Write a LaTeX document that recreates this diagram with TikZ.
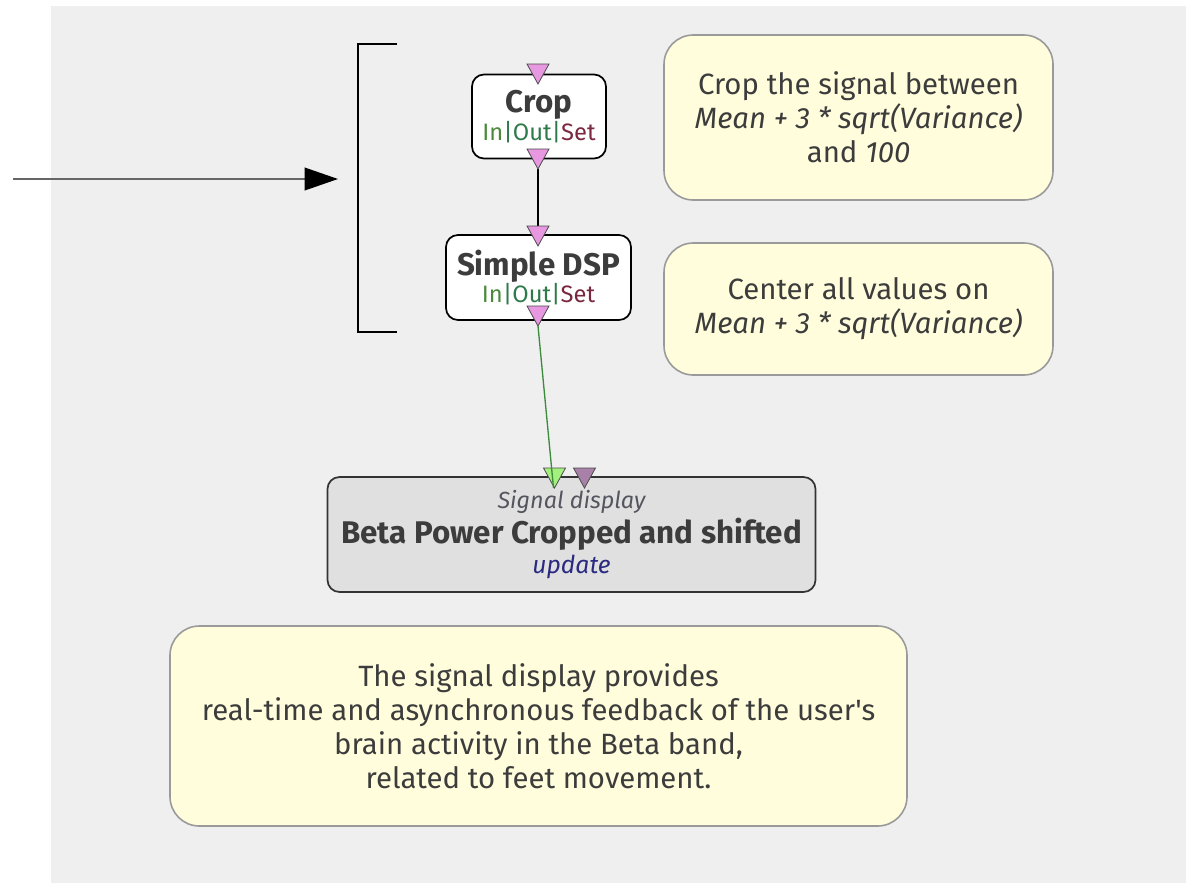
\documentclass[tikz,border=0pt]{standalone}
\usepackage{fontspec}
\setmainfont{Fira Sans}[Ligatures=TeXOff]
\usetikzlibrary{arrows.meta,calc}

\definecolor{canvas}{HTML}{EFEFEF}
\definecolor{notefill}{HTML}{FFFDDC}
\definecolor{noteline}{HTML}{9A9A9A}
\definecolor{boxfill}{HTML}{FFFFFF}
\definecolor{dispfill}{HTML}{E0E0E0}
\definecolor{txt}{HTML}{3C3C3C}
\definecolor{inclr}{HTML}{4A8A3A}
\definecolor{outclr}{HTML}{2E7A4A}
\definecolor{setclr}{HTML}{7A2840}
\definecolor{portpink}{HTML}{E898E0}
\definecolor{portgreen}{HTML}{A4F07E}
\definecolor{portpurple}{HTML}{A880A8}
\definecolor{linkgreen}{HTML}{3C8C3C}
\definecolor{updclr}{HTML}{2A2A80}
\definecolor{dispgray}{HTML}{555560}

\newcommand{\ios}{{\color{inclr}In}{\color{outclr}|Out|}{\color{setclr}Set}}

\tikzset{
  boxnode/.style={draw=black, line width=1.3pt, fill=boxfill, rounded corners=9pt,
    align=center, text=txt, inner sep=0pt},
  notenode/.style={draw=noteline, line width=1.2pt, fill=notefill, rounded corners=22pt,
    align=center, text=txt, inner sep=0pt, font=\fontsize{22}{25.5}\selectfont},
}

% downward port triangle centred on a point
\newcommand{\porttri}[2]{%
  \fill[#2, draw=black!70, line width=0.6pt]
    ($(#1)+(-11,-10)$) -- ($(#1)+(11,-10)$) -- ($(#1)+(0,10)$) -- cycle;}

\begin{document}
\begin{tikzpicture}[x=0.75pt, y=-0.75pt]
\useasboundingbox (0,0) rectangle (1188,883);
\fill[white] (0,0) rectangle (1188,883);
\fill[canvas] (51,6) rectangle (1186,883);

% incoming arrow and bracket
\coordinate (src) at (13,179);
\coordinate (bt) at (397,44);
\coordinate (bm) at (358,179);
\coordinate (bb) at (397,332);
\draw[black, line width=1pt] (bt) -- (358,44) -- (358,332) -- (bb);
\draw[black!60, line width=1.2pt, -{Triangle[length=25pt,width=17pt,fill=black,color=black]}]
  (src) -- ($(bm)+(-20,0)$);

% comment boxes
\node[notenode, minimum width=389*0.75pt, minimum height=165*0.75pt] (n1) at (858.5,117.5)
  {Crop the signal between\\ \textit{Mean + 3 * sqrt(Variance)}\\ and \textit{100}};
\node[notenode, minimum width=389*0.75pt, minimum height=132*0.75pt] (n2) at (858.5,309)
  {Center all values on\\ \textit{Mean + 3 * sqrt(Variance)}};
\node[notenode, minimum width=737*0.75pt, minimum height=200*0.75pt] (n3) at (538.5,726)
  {The signal display provides\\ real-time and asynchronous feedback of the user's\\
   brain activity in the Beta band,\\ related to feet movement.};

% processing boxes
\node[boxnode, minimum width=134*0.75pt, minimum height=84*0.75pt] (crop) at (539,116.5)
  {\fontsize{23.5}{22.5}\selectfont\bfseries\rule{0pt}{17pt}Crop\\ \fontsize{17.8}{22.5}\selectfont\ios};
\node[boxnode, minimum width=185*0.75pt, minimum height=85*0.75pt] (dsp) at (538.5,277.5)
  {\fontsize{23.5}{23}\selectfont\bfseries Simple DSP\\ \fontsize{17.8}{23}\selectfont\ios};
\node[boxnode, draw=black!80, fill=dispfill, minimum width=488*0.75pt, minimum height=115*0.75pt] (disp) at (571.5,534.5)
  {\fontsize{17.5}{24.5}\selectfont\itshape\color{dispgray}Signal display\\[2.5pt]
   \fontsize{23.5}{24.5}\selectfont\bfseries\color{txt}Beta Power Cropped and shifted\\[2.5pt]
   \fontsize{18.5}{24.5}\selectfont\itshape\color{updclr}update};

% ports
\coordinate (crop-in) at (538,74);
\coordinate (crop-out) at (538,159);
\coordinate (dsp-in) at (538,236);
\coordinate (dsp-out) at (538,316);
\coordinate (disp-sig) at (554.5,478);
\coordinate (disp-stim) at (584.5,478);

% links
\draw[black, line width=1.3pt] ($(crop-out)+(0,10)$) -- ($(dsp-in)+(0,-10)$);
\porttri{crop-in}{portpink}
\porttri{crop-out}{portpink}
\porttri{dsp-in}{portpink}
\porttri{dsp-out}{portpink}
\porttri{disp-sig}{portgreen}
\porttri{disp-stim}{portpurple}
\draw[linkgreen, line width=1pt] ($(dsp-out)+(0,10)$) -- ($(disp-sig)+(-1,10)$);
\end{tikzpicture}
\end{document}
